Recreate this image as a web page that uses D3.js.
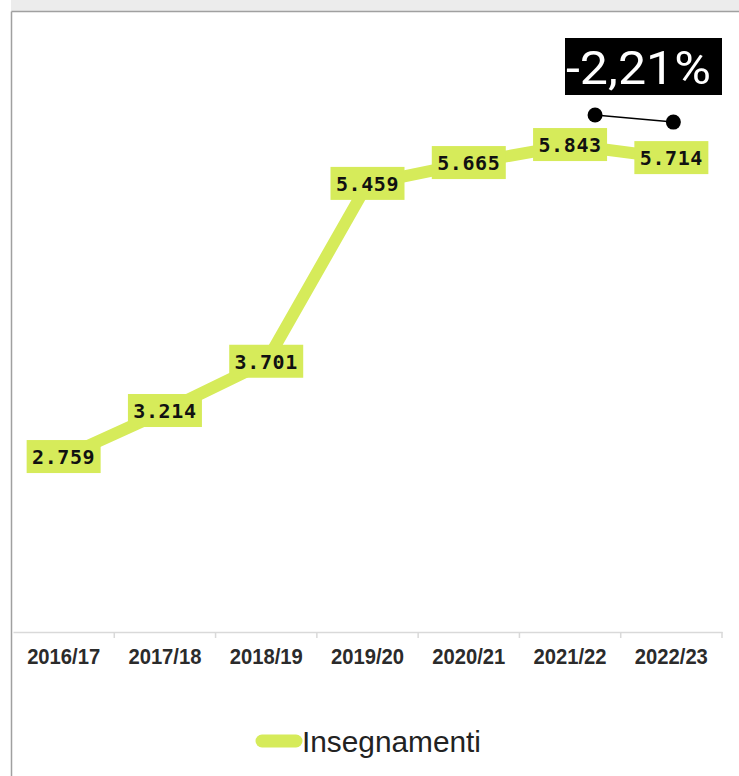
<!DOCTYPE html>
<html><head><meta charset="utf-8">
<script src="https://cdn.jsdelivr.net/npm/d3@7"></script>
<style>
html,body{margin:0;padding:0;background:#fff;}
svg{display:block;}
</style></head>
<body>
<svg id="chart" width="739" height="776"></svg>
<script>
const categories = ["2016/17","2017/18","2018/19","2019/20","2020/21","2021/22","2022/23"];
const values = [2.759, 3.214, 3.701, 5.459, 5.665, 5.843, 5.714];
const valueLabels = ["2.759","3.214","3.701","5.459","5.665","5.843","5.714"];
const seriesName = "Insegnamenti";
const changeLabel = "-2,21%";

const W = 739, H = 776;
const svg = d3.select("#chart");
const lime = "#d6eb5a";

// frame
svg.append("rect").attr("x",0).attr("y",0).attr("width",W).attr("height",H).attr("fill","#fff");
svg.append("rect").attr("x",0).attr("y",0).attr("width",W).attr("height",11).attr("fill","#ececec");
svg.append("rect").attr("x",0).attr("y",0).attr("width",11).attr("height",H).attr("fill","#fff");
svg.append("line").attr("x1",11.5).attr("x2",W).attr("y1",11.5).attr("y2",11.5).attr("stroke","#a0a0a0").attr("stroke-width",1.5);
svg.append("line").attr("x1",11.5).attr("x2",11.5).attr("y1",11.5).attr("y2",H).attr("stroke","#a0a0a0").attr("stroke-width",1.5);

const x = d3.scaleBand().domain(categories).range([13, 722]).padding(0);
const y = d3.scaleLinear().domain([1, 7]).range([635, 28]);

// axis
const axis = d3.axisBottom(x).tickSize(0).tickPadding(0);
const gAxis = svg.append("g").attr("transform","translate(0,632)").call(axis);
gAxis.select(".domain").attr("stroke","#d9d9d9").attr("stroke-width",1.5);
gAxis.selectAll(".tick text")
  .attr("y", 32).attr("dy", 0)
  .attr("font-family","'Liberation Sans',Arial,sans-serif")
  .attr("font-weight","bold").attr("font-size",21.5).attr("fill","#2b2b2b")
  .attr("textLength",73).attr("lengthAdjust","spacingAndGlyphs");
// boundary ticks
const bounds = categories.slice(1).map(c => x(c)).concat([x.range()[1]]);
svg.append("g").selectAll("line").data(bounds).join("line")
  .attr("x1",d=>d).attr("x2",d=>d).attr("y1",632).attr("y2",638)
  .attr("stroke","#d9d9d9").attr("stroke-width",1.5);

const cx = d => x(d) + x.bandwidth()/2;

// line
const pts = categories.map((c,i)=>[cx(c), y(values[i])]);
svg.append("path").datum(pts)
  .attr("d", d3.line())
  .attr("fill","none").attr("stroke",lime).attr("stroke-width",12).attr("stroke-linejoin","round");

// labels
const lg = svg.append("g").selectAll("g").data(categories).join("g")
  .attr("transform",(c,i)=>`translate(${cx(c)},${y(values[i])})`);
lg.append("rect").attr("x",-37).attr("y",-17).attr("width",74).attr("height",33).attr("fill",lime);
lg.append("text").text((c,i)=>valueLabels[i])
  .attr("text-anchor","middle").attr("dy","0.36em").attr("y",0)
  .attr("font-family","'DejaVu Sans Mono','Liberation Mono',monospace")
  .attr("font-weight","bold").attr("font-size",20).attr("letter-spacing",0.6).attr("fill","#111");

// change annotation
const i1 = categories.length-2, i2 = categories.length-1;
const dx1 = cx(categories[i1]) + 25, dx2 = cx(categories[i2]) + 2;
const dy1 = y(values[i1]) - 30, dy2 = y(values[i2]) - 36;
svg.append("line").attr("x1",dx1).attr("y1",dy1).attr("x2",dx2).attr("y2",dy2)
  .attr("stroke","#000").attr("stroke-width",1.5);
svg.selectAll(".dot").data([[dx1,dy1],[dx2,dy2]]).join("circle")
  .attr("cx",d=>d[0]).attr("cy",d=>d[1]).attr("r",7.5).attr("fill","#000");
svg.append("rect").attr("x",565).attr("y",38).attr("width",157).attr("height",57).attr("fill","#000");
svg.append("text").text(changeLabel).attr("x",566).attr("y",84)
  .attr("font-family","Roboto,'Liberation Sans',sans-serif")
  .attr("font-size",46).attr("fill","#fff").attr("textLength",145).attr("lengthAdjust","spacingAndGlyphs");

// legend
svg.append("line").attr("x1",262).attr("x2",296).attr("y1",741).attr("y2",741)
  .attr("stroke",lime).attr("stroke-width",13).attr("stroke-linecap","round");
svg.append("text").text(seriesName).attr("x",302).attr("y",752)
  .attr("font-family","'Liberation Sans',Arial,sans-serif")
  .attr("font-size",29).attr("fill","#222")
  .attr("textLength",179).attr("lengthAdjust","spacingAndGlyphs");
</script>
</body></html>
